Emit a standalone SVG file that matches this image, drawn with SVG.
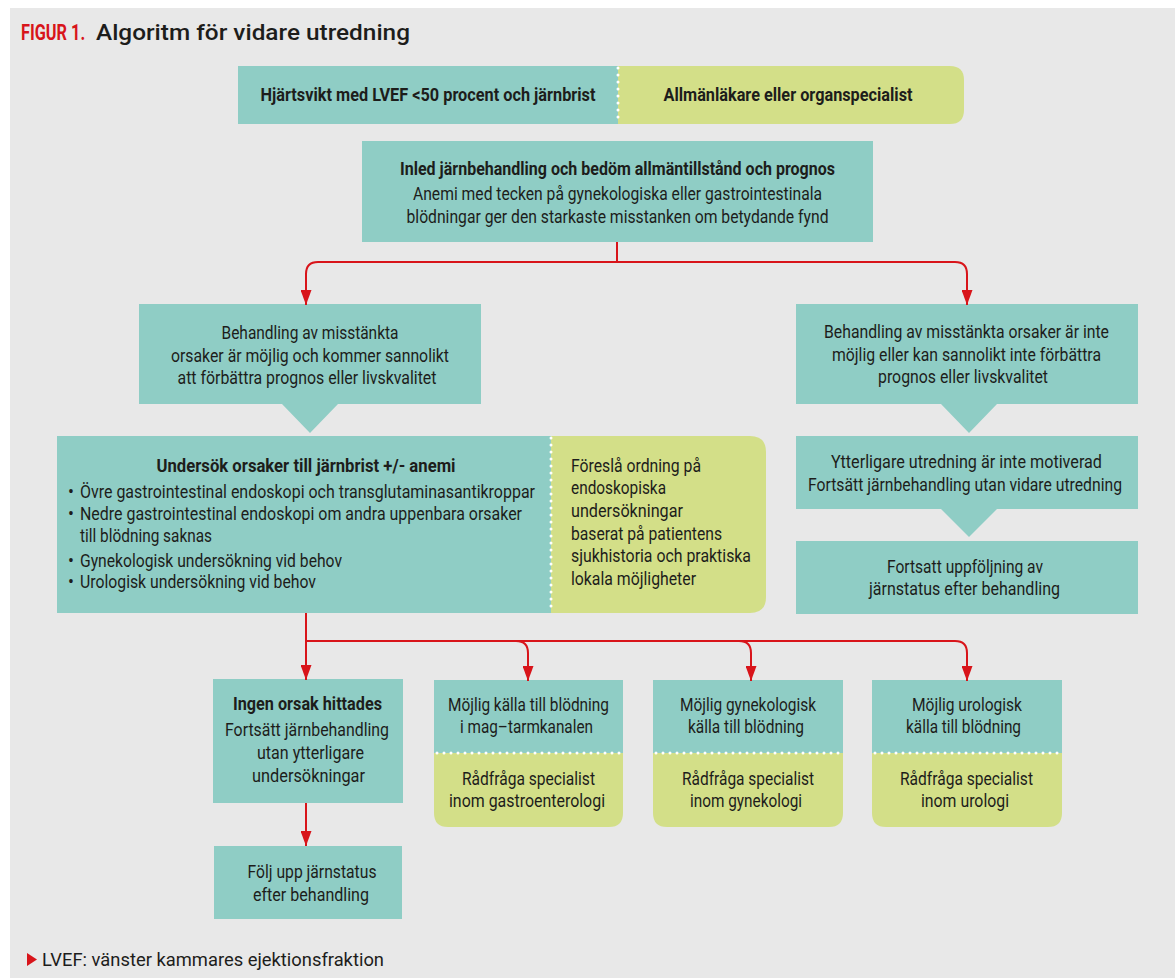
<svg xmlns="http://www.w3.org/2000/svg" width="1175" height="979" viewBox="0 0 1175 979">
<style>
text{font-family:Roboto,"Liberation Sans",sans-serif;fill:#1d1d1b;font-size:17.5px}
.b{font-weight:700}
.c{text-anchor:middle}
.teal{fill:#8fcdc5}
.green{fill:#d3df88}
.dots{stroke:#ffffff;stroke-width:3;stroke-linecap:round;stroke-dasharray:0 7;fill:none}
.conn{stroke:#d8141a;stroke-width:2;fill:none}
</style>
<defs>
<marker id="ah" markerUnits="userSpaceOnUse" markerWidth="15" markerHeight="11" refX="15" refY="5.5" orient="auto"><path d="M0,0 L15,5.5 L0,11 z" fill="#d8141a"/></marker>
</defs>
<rect x="0" y="0" width="1175" height="979" fill="#ffffff"/>
<rect x="10" y="8" width="1165" height="970" fill="#e8e8e8"/>
<g id="title">
<text transform="translate(21,40) scale(1,1.32)" x="0" y="0" style="font-size:16.3px;font-weight:700;fill:#d8141a">FIGUR 1.</text>
<text x="96" y="40" style="font-size:22px;font-weight:500" textLength="314" lengthAdjust="spacingAndGlyphs">Algoritm för vidare utredning</text>
</g>
<g id="n-top">
<rect class="teal" x="238" y="66" width="381" height="58"/>
<path class="green" d="M618,66 H950 Q964,66 964,80 V110 Q964,124 950,124 H618 Z"/>
<path class="dots" d="M618,68 V124"/>
<text x="428" y="101" class="b c" textLength="335" lengthAdjust="spacingAndGlyphs">Hjärtsvikt med LVEF &lt;50 procent och järnbrist</text>
<text x="788" y="101" class="b c" textLength="249" lengthAdjust="spacingAndGlyphs">Allmänläkare eller organspecialist</text>
</g>
<g id="n-inled">
<rect class="teal" x="362" y="141" width="511" height="101"/>
<text x="617.5" y="175" class="b c" textLength="435" lengthAdjust="spacingAndGlyphs">Inled järnbehandling och bedöm allmäntillstånd och prognos</text>
<text x="617.5" y="200" class="c" textLength="409" lengthAdjust="spacingAndGlyphs">Anemi med tecken på gynekologiska eller gastrointestinala</text>
<text x="617.5" y="223" class="c" textLength="422" lengthAdjust="spacingAndGlyphs">blödningar ger den starkaste misstanken om betydande fynd</text>
</g>
<g id="n-mojlig">
<path class="teal" d="M139,304 H481 V404 H338 L310,433 L282,404 H139 Z"/>
<text x="310" y="339" class="c" textLength="177" lengthAdjust="spacingAndGlyphs">Behandling av misstänkta</text>
<text x="310" y="362" class="c" textLength="278" lengthAdjust="spacingAndGlyphs">orsaker är möjlig och kommer sannolikt</text>
<text x="307" y="384" class="c" textLength="259" lengthAdjust="spacingAndGlyphs">att förbättra prognos eller livskvalitet</text>
</g>
<g id="n-intemojlig">
<path class="teal" d="M796,304 H1138 V404 H997 L969,433 L941,404 H796 Z"/>
<text x="966.5" y="338" class="c" textLength="285" lengthAdjust="spacingAndGlyphs">Behandling av misstänkta orsaker är inte</text>
<text x="966.5" y="361" class="c" textLength="269" lengthAdjust="spacingAndGlyphs">möjlig eller kan sannolikt inte förbättra</text>
<text x="963" y="383" class="c" textLength="170" lengthAdjust="spacingAndGlyphs">prognos eller livskvalitet</text>
</g>
<g id="n-ytterligare">
<path class="teal" d="M796,436 H1138 V509 H997 L969,537 L941,509 H796 Z"/>
<text x="966.5" y="468" class="c" textLength="271" lengthAdjust="spacingAndGlyphs">Ytterligare utredning är inte motiverad</text>
<text x="965" y="491" class="c" textLength="314" lengthAdjust="spacingAndGlyphs">Fortsätt järnbehandling utan vidare utredning</text>
</g>
<g id="n-fortsatt">
<rect class="teal" x="796" y="541" width="342" height="73"/>
<text x="965" y="573" class="c" textLength="156" lengthAdjust="spacingAndGlyphs">Fortsatt uppföljning av</text>
<text x="964.5" y="595" class="c" textLength="191" lengthAdjust="spacingAndGlyphs">järnstatus efter behandling</text>
</g>
<g id="n-undersok">
<rect class="teal" x="57" y="436" width="495" height="177"/>
<path class="green" d="M551,436 H750 Q766,436 766,452 V597 Q766,613 750,613 H551 Z"/>
<path class="dots" d="M551,438 V613"/>
<text x="306" y="472" class="b c" textLength="299" lengthAdjust="spacingAndGlyphs">Undersök orsaker till järnbrist +/-  anemi</text>
<text x="68" y="498">•</text>
<text x="80" y="498" textLength="455" lengthAdjust="spacingAndGlyphs">Övre gastrointestinal endoskopi och transglutaminasantikroppar</text>
<text x="68" y="520">•</text>
<text x="80" y="520" textLength="442" lengthAdjust="spacingAndGlyphs">Nedre gastrointestinal endoskopi om andra uppenbara orsaker</text>
<text x="80" y="542" textLength="132" lengthAdjust="spacingAndGlyphs">till blödning saknas</text>
<text x="68" y="567">•</text>
<text x="80" y="567" textLength="262" lengthAdjust="spacingAndGlyphs">Gynekologisk undersökning vid behov</text>
<text x="68" y="588">•</text>
<text x="80" y="588" textLength="236" lengthAdjust="spacingAndGlyphs">Urologisk undersökning vid behov</text>
<text x="571" y="472" textLength="130" lengthAdjust="spacingAndGlyphs">Föreslå ordning på</text>
<text x="571" y="494" textLength="95" lengthAdjust="spacingAndGlyphs">endoskopiska</text>
<text x="571" y="517" textLength="112" lengthAdjust="spacingAndGlyphs">undersökningar</text>
<text x="571" y="540" textLength="151" lengthAdjust="spacingAndGlyphs">baserat på patientens</text>
<text x="571" y="562" textLength="180" lengthAdjust="spacingAndGlyphs">sjukhistoria och praktiska</text>
<text x="571" y="585" textLength="125" lengthAdjust="spacingAndGlyphs">lokala möjligheter</text>
</g>
<g id="n-ingen">
<rect class="teal" x="213" y="679" width="190" height="124"/>
<text x="307.5" y="710" class="b c" textLength="149" lengthAdjust="spacingAndGlyphs">Ingen orsak hittades</text>
<text x="307" y="736" class="c" textLength="164" lengthAdjust="spacingAndGlyphs">Fortsätt järnbehandling</text>
<text x="310.5" y="759" class="c" textLength="107" lengthAdjust="spacingAndGlyphs">utan ytterligare</text>
<text x="308.5" y="782" class="c" textLength="113" lengthAdjust="spacingAndGlyphs">undersökningar</text>
</g>
<g id="n-folj">
<rect class="teal" x="214" y="846" width="188" height="73"/>
<text x="312" y="878" class="c" textLength="129" lengthAdjust="spacingAndGlyphs">Följ upp järnstatus</text>
<text x="311" y="901" class="c" textLength="116" lengthAdjust="spacingAndGlyphs">efter behandling</text>
</g>
<g id="n-mag">
<rect class="teal" x="434" y="680" width="189" height="74"/>
<path class="green" d="M434,753 H623 V813 Q623,827 609,827 H448 Q434,827 434,813 Z"/>
<path class="dots" d="M437,753 H623"/>
<text x="528.5" y="711" class="c" textLength="161" lengthAdjust="spacingAndGlyphs">Möjlig källa till blödning</text>
<text x="526.5" y="733" class="c" textLength="133" lengthAdjust="spacingAndGlyphs">i mag–tarmkanalen</text>
<text x="528.5" y="785" class="c" textLength="133" lengthAdjust="spacingAndGlyphs">Rådfråga specialist</text>
<text x="527" y="807" class="c" textLength="156" lengthAdjust="spacingAndGlyphs">inom gastroenterologi</text>
</g>
<g id="n-gyn">
<rect class="teal" x="653" y="680" width="190" height="74"/>
<path class="green" d="M653,753 H843 V813 Q843,827 829,827 H667 Q653,827 653,813 Z"/>
<path class="dots" d="M656,753 H843"/>
<text x="748" y="711" class="c" textLength="136" lengthAdjust="spacingAndGlyphs">Möjlig gynekologisk</text>
<text x="746" y="733" class="c" textLength="116" lengthAdjust="spacingAndGlyphs">källa till blödning</text>
<text x="748" y="785" class="c" textLength="132" lengthAdjust="spacingAndGlyphs">Rådfråga specialist</text>
<text x="746" y="807" class="c" textLength="112" lengthAdjust="spacingAndGlyphs">inom gynekologi</text>
</g>
<g id="n-uro">
<rect class="teal" x="872" y="680" width="190" height="74"/>
<path class="green" d="M872,753 H1062 V813 Q1062,827 1048,827 H886 Q872,827 872,813 Z"/>
<path class="dots" d="M875,753 H1062"/>
<text x="967" y="711" class="c" textLength="110" lengthAdjust="spacingAndGlyphs">Möjlig urologisk</text>
<text x="963.5" y="733" class="c" textLength="115" lengthAdjust="spacingAndGlyphs">källa till blödning</text>
<text x="966.5" y="785" class="c" textLength="133" lengthAdjust="spacingAndGlyphs">Rådfråga specialist</text>
<text x="965" y="807" class="c" textLength="88" lengthAdjust="spacingAndGlyphs">inom urologi</text>
</g>
<g id="connectors">
<path class="conn" d="M617,242 V263"/>
<path class="conn" marker-end="url(#ah)" d="M617,262 H318 Q306,262 306,274 V305"/>
<path class="conn" marker-end="url(#ah)" d="M617,262 H955 Q967,262 967,274 V305"/>
<path class="conn" marker-end="url(#ah)" d="M306,613 V680"/>
<path class="conn" marker-end="url(#ah)" d="M306,641 H955 Q967,641 967,653 V681"/>
<path class="conn" marker-end="url(#ah)" d="M516,641 Q528,641 528,653 V681"/>
<path class="conn" marker-end="url(#ah)" d="M739,641 Q751,641 751,653 V681"/>
<path class="conn" marker-end="url(#ah)" d="M306,803 V846"/>
</g>
<g id="footnote">
<path d="M27,953 L37,959.5 L27,966 Z" fill="#d8141a"/>
<text x="42" y="966" style="font-size:18px" textLength="342" lengthAdjust="spacingAndGlyphs">LVEF: vänster kammares ejektionsfraktion</text>
</g>
</svg>
